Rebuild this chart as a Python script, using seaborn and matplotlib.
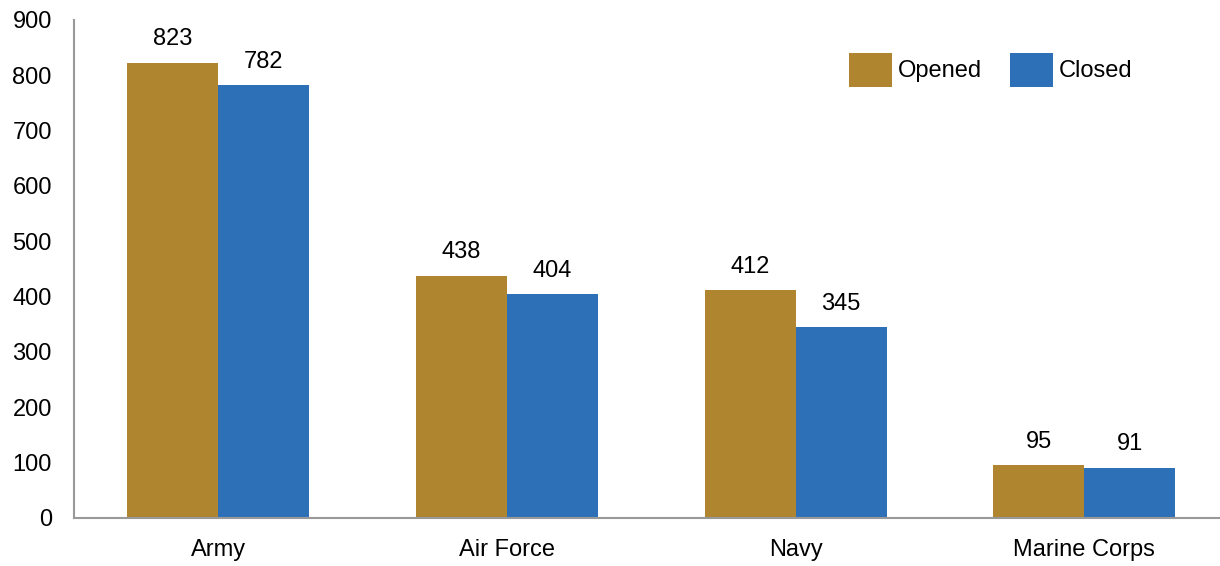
import pandas as pd
import seaborn as sns
import matplotlib.pyplot as plt

# --- Data ---
branches = ["Army", "Air Force", "Navy", "Marine Corps"]
opened = [823, 438, 412, 95]
closed = [782, 404, 345, 91]
series = ["Opened", "Closed"]
colors = ["#AF8530", "#2D70B8"]

df = pd.DataFrame({
    "Branch": branches * 2,
    "Status": ["Opened"] * len(branches) + ["Closed"] * len(branches),
    "Count": opened + closed,
})

sns.set_theme(style="white")
plt.rcParams["font.family"] = ["Liberation Sans", "DejaVu Sans"]
plt.rcParams["text.color"] = "black"
plt.rcParams["xtick.color"] = "black"
plt.rcParams["ytick.color"] = "black"

fig = plt.figure(figsize=(12.2, 5.66), dpi=100)
ax = fig.add_axes([74 / 1220, 48 / 566, 1 - 74 / 1220, 498 / 566])

sns.barplot(
    data=df, x="Branch", y="Count", hue="Status",
    hue_order=series, palette=colors, width=0.63,
    saturation=1, ax=ax, errorbar=None, linewidth=0,
)

for cont in ax.containers:
    ax.bar_label(cont, padding=9, fontsize=17, color="black")

ax.set_ylim(0, 900)
ax.set_yticks(range(0, 901, 100))
# right end is cut slightly short of a full category slot, as in the source
ax.set_xlim(-0.5, 3.47)
ax.set_xlabel("")
ax.set_ylabel("")
ax.tick_params(axis="both", labelsize=17, length=0)
ax.tick_params(axis="x", pad=15)
ax.tick_params(axis="y", pad=16)

for side in ["top", "right"]:
    ax.spines[side].set_visible(False)
for side in ["left", "bottom"]:
    ax.spines[side].set_color("#999999")
    ax.spines[side].set_linewidth(1.5)

leg = ax.legend(
    loc="center", bbox_to_anchor=(0.80, 0.90), ncol=2, frameon=False,
    fontsize=17, handlelength=1.82, handleheight=1.82, handletextpad=0.25,
    columnspacing=1.2,
)
for t in leg.get_texts():
    t.set_color("black")

fig.savefig("out.png", dpi=100)
